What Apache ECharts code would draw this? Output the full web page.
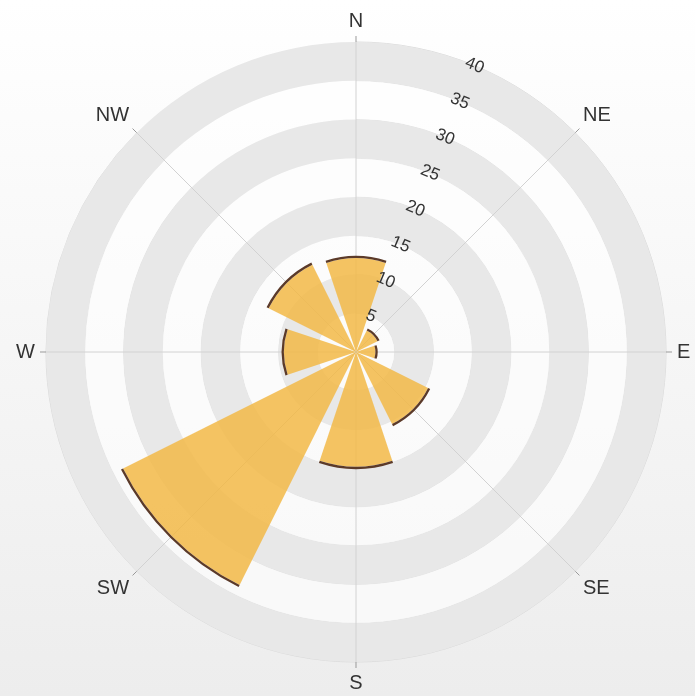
<!DOCTYPE html>
<html>
<head>
<meta charset="utf-8">
<script src="https://cdn.jsdelivr.net/npm/echarts@6/dist/echarts.min.js"></script>
<style>
  html, body { margin: 0; padding: 0; }
  #chart { width: 695px; height: 696px; }
</style>
</head>
<body>
<div id="chart"></div>
<script>
// 风向
const directions = ['N', 'NE', 'E', 'SE', 'S', 'SW', 'W', 'NW']
// 各方向频率
const frequency = [12.1, 3.1, 2.5, 10.4, 14.8, 33.6, 9.3, 12.6]
// 外缘深色描边（叠加在柱顶的一条细弧）
const edge = [0.3, 0.3, 0.3, 0.3, 0.3, 0.3, 0.3, 0.3]
// 半径刻度
const radiusMin = 0
const radiusMax = 40
const radiusStep = 5

const chart = echarts.init(document.getElementById('chart'))

const center = [356, 352]
const fontFamily = '"Liberation Sans", Arial, sans-serif'

chart.setOption({
  backgroundColor: new echarts.graphic.LinearGradient(0, 0, 0, 1, [
    { offset: 0, color: '#ffffff' },
    { offset: 1, color: '#ededed' }
  ]),
  polar: [
    { center, radius: 310 },
    { center, radius: 310 }   // 仅用于放置斜向的半径刻度标签
  ],
  angleAxis: [{
    polarIndex: 0,
    type: 'category',
    data: directions,
    startAngle: 90,
    boundaryGap: false,
    axisLine: { show: false },
    axisTick: { show: true, length: 6, lineStyle: { color: '#999' } },
    axisLabel: { margin: 11, fontSize: 20, color: '#333', fontFamily },
    splitLine: { show: true, lineStyle: { color: '#d2d2d2', width: 1 } },
    z: 1
  }, {
    polarIndex: 1,
    type: 'value',
    min: 0,
    max: 360,
    startAngle: 67.5,
    show: false
  }],
  radiusAxis: [{
    polarIndex: 0,
    min: radiusMin,
    max: radiusMax,
    interval: radiusStep,
    axisLine: { show: false },
    axisTick: { show: false },
    axisLabel: { show: false },
    splitLine: { show: true, lineStyle: { color: '#dadada', width: 1 } },
    splitArea: { show: true, areaStyle: { color: ['rgba(255,255,255,0.6)', '#e8e8e8'] } }
  }, {
    polarIndex: 1,
    min: radiusMin,
    max: radiusMax,
    interval: radiusStep,
    axisLine: { show: false },
    axisTick: { show: false },
    splitLine: { show: false },
    splitArea: { show: false },
    axisLabel: {
      showMinLabel: false,
      rotate: -22.5,
      margin: 0,
      align: 'center',
      verticalAlign: 'middle',
      fontSize: 17,
      color: '#333',
      fontFamily
    },
    z: 10
  }],
  series: [{
    type: 'bar',
    coordinateSystem: 'polar',
    polarIndex: 0,
    stack: 'wind',
    barCategoryGap: '18%',
    data: frequency,
    itemStyle: { color: 'rgba(242,184,70,0.85)' },
    z: 2
  }, {
    type: 'bar',
    coordinateSystem: 'polar',
    polarIndex: 0,
    stack: 'wind',
    barCategoryGap: '18%',
    data: edge,
    itemStyle: { color: '#5b3a29' },
    silent: true,
    z: 2
  }]
})
</script>
</body>
</html>
